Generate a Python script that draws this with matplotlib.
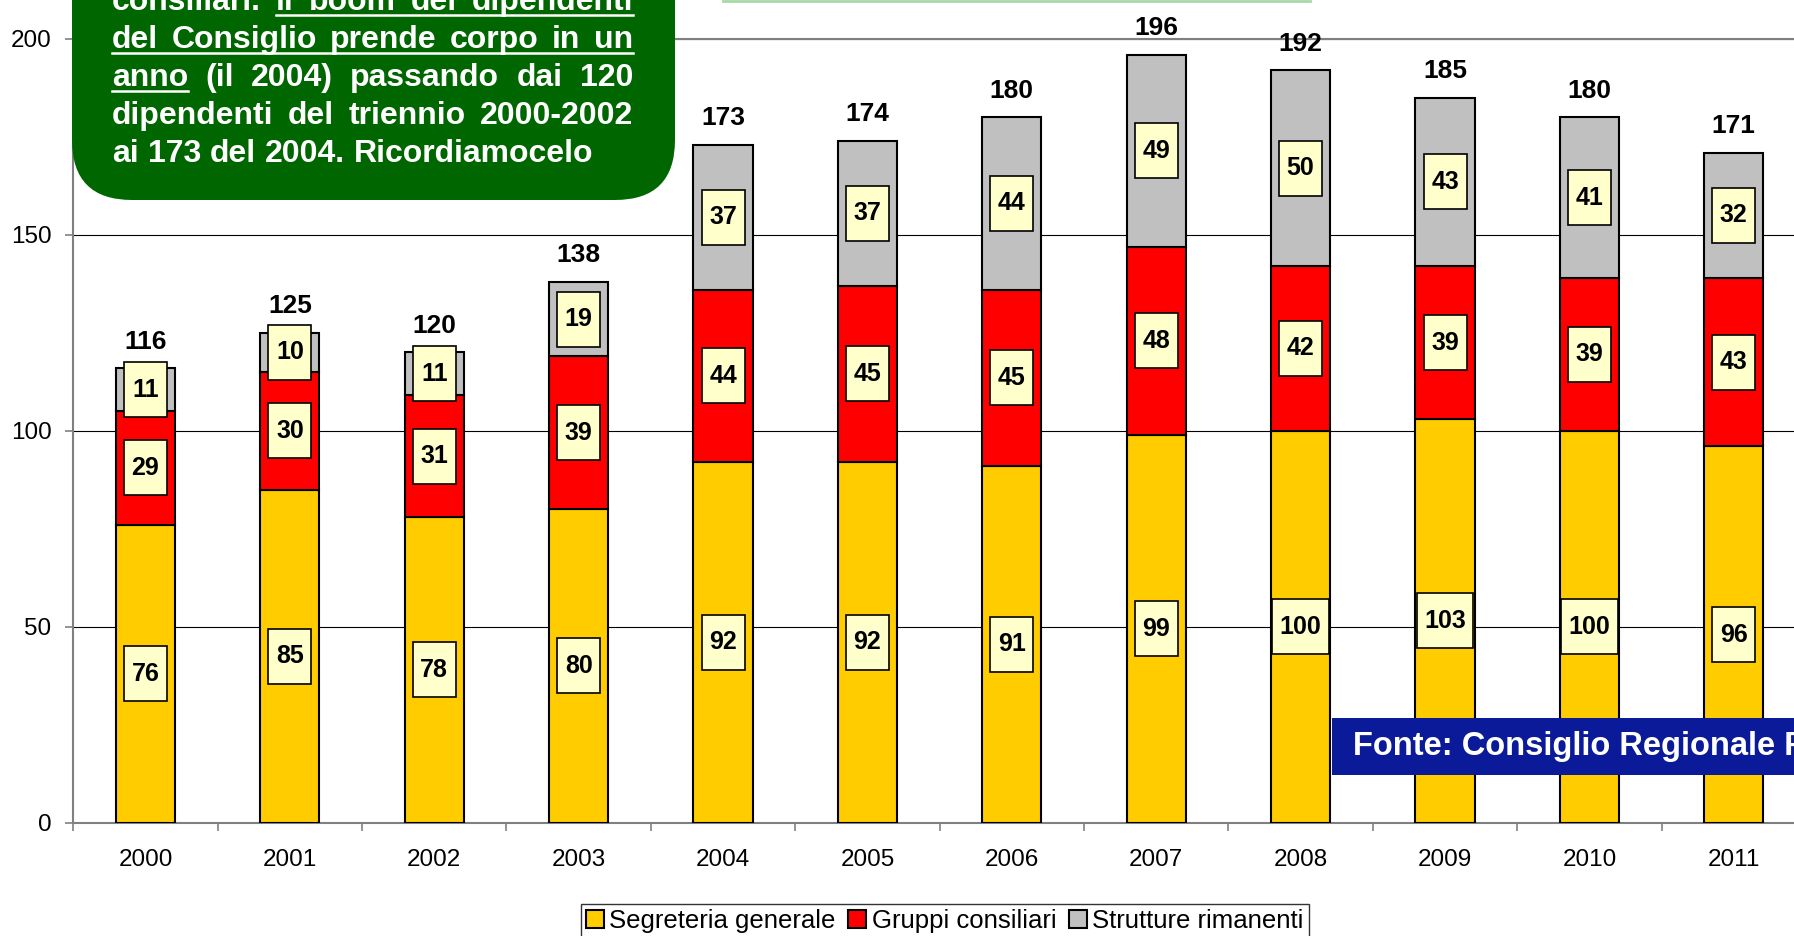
import numpy as np
import matplotlib
matplotlib.use('Agg')
import matplotlib.pyplot as plt
from matplotlib.patches import FancyBboxPatch, Rectangle
from matplotlib.lines import Line2D
from matplotlib.transforms import IdentityTransform

plt.rcParams['font.family'] = ['Liberation Sans', 'DejaVu Sans']

# data
years = ['2000', '2001', '2002', '2003', '2004', '2005',
         '2006', '2007', '2008', '2009', '2010', '2011']
segreteria = [76, 85, 78, 80, 92, 92, 91, 99, 100, 103, 100, 96]
gruppi = [29, 30, 31, 39, 44, 45, 45, 48, 42, 39, 39, 43]
strutture = [11, 10, 11, 19, 37, 37, 44, 49, 50, 43, 41, 32]
series_names = ['Segreteria generale', 'Gruppi consiliari', 'Strutture rimanenti']
series_colors = ['#FFCC00', '#FF0000', '#C0C0C0']

# text of the green note, (word, underlined)
note_lines = [
    [('consiliari.', False), ('il', True), ('boom', True), ('dei', True), ('dipendenti', True)],
    [(w, True) for w in 'del Consiglio prende corpo in un'.split()],
    [('anno', True), ('(il', False), ('2004)', False), ('passando', False), ('dai', False), ('120', False)],
    [(w, False) for w in 'dipendenti del triennio 2000-2002'.split()],
    [(w, False) for w in 'ai 173 del 2004. Ricordiamocelo'.split()],
]
source_text = 'Fonte: Consiglio Regionale FVG'

W, H = 1794, 936
fig = plt.figure(figsize=(W / 100, H / 100), dpi=100)
ax = fig.add_axes([73.3 / W, 113.4 / H, (1806 - 73.3) / W, (897.1 - 113.4) / H])

x = np.arange(len(years))
bw = 0.41
bottom = np.zeros(len(years))
px_x = 144.4  # pixels per category
px_y = 3.918  # pixels per unit
for vals, col, name in zip([segreteria, gruppi, strutture], series_colors, series_names):
    vals = np.array(vals, dtype=float)
    ax.bar(x, vals, bw, bottom=bottom, color=col, edgecolor='black',
           linewidth=1.5, label=name, zorder=3)
    for xi, b, v in zip(x, bottom, vals):
        s = str(int(v))
        w = (len(s) * 13.5 + 16) / px_x
        h = 55 / px_y
        ax.add_patch(Rectangle((xi - w / 2, b + v / 2 - h / 2), w, h, facecolor='#FFFFCC',
                               edgecolor='black', lw=1.2, zorder=4, clip_on=False))
        ax.text(xi, b + v / 2, s, ha='center', va='center', fontsize=18,
                fontweight='bold', zorder=5)
    bottom += vals

for xi, t in zip(x, bottom):
    ax.annotate(str(int(t)), (xi, t), xytext=(0, 19), textcoords='offset points',
                ha='center', va='center', fontsize=19, fontweight='bold',
                annotation_clip=False)

ax.set_xlim(-0.5, 11.5)
ax.set_ylim(0, 200)
ax.set_yticks([0, 50, 100, 150, 200])
ax.yaxis.grid(True, color='black', lw=0.8)
ax.set_axisbelow(True)
ax.set_xticks(x)
ax.set_xticklabels(years)
ax.set_xticks(np.arange(-0.5, 12, 1), minor=True)
ax.tick_params(axis='x', which='major', length=0, pad=19, labelsize=17.5)
ax.tick_params(axis='x', which='minor', length=6, width=1.2, color='#808080')
ax.tick_params(axis='y', length=6, width=1.2, color='#808080', pad=9.7, labelsize=17.5)
for side in ['left', 'bottom', 'top']:
    ax.spines[side].set_color('#808080')
    ax.spines[side].set_linewidth(1.5)
ax.spines['right'].set_visible(False)

leg = fig.legend(loc='upper left', bbox_to_anchor=(581 / W, 1 - 904 / H), ncol=3,
                 fancybox=False, edgecolor='black', fontsize=18.5, handlelength=0.7,
                 handleheight=0.7, handletextpad=0.2, columnspacing=0.5,
                 borderpad=0.2, borderaxespad=0)
leg.get_frame().set_linewidth(1)

# green note box
ident = IdentityTransform()
fig.add_artist(FancyBboxPatch((72, H - 200), 675 - 72, 300,
                              boxstyle='round,pad=0,rounding_size=60',
                              transform=ident, facecolor='#006600', edgecolor='none'))
fig.add_artist(Line2D([723, 1310], [H - 1, H - 1], transform=ident, color='#A8D8A8', lw=2))

renderer = fig.canvas.get_renderer()
left, right = 112, 633
baselines = [10, 48, 86, 124, 162]
for i, (words, base) in enumerate(zip(note_lines, baselines)):
    y = H - base
    texts = [fig.text(0, y, w, transform=ident, color='white', fontsize=23,
                      fontweight='bold', va='baseline', ha='left') for w, u in words]
    widths = [t.get_window_extent(renderer=renderer).width for t in texts]
    if i < len(note_lines) - 1:
        gap = (right - left - sum(widths)) / (len(words) - 1)
    else:
        gap = 8.9
    pos = left
    spans = []
    for t, wd, (w, u) in zip(texts, widths, words):
        t.set_x(pos)
        spans.append((pos, pos + wd, u))
        pos += wd + gap
    # underline runs
    run = None
    for a, b, u in spans + [(0, 0, False)]:
        if u:
            run = (run[0] if run else a, b)
        elif run:
            fig.add_artist(Line2D([run[0], run[1]], [y - 5, y - 5], transform=ident,
                                  color='white', lw=1.8))
            run = None

# source box
fig.add_artist(Rectangle((1332, H - 775), 600, 57, transform=ident,
                         facecolor='#0A1A99', edgecolor='none'))
fig.text(1353, H - 747, source_text, transform=ident, color='white', fontsize=23.5,
         fontweight='bold', va='center', ha='left')

fig.savefig('out.png', dpi=100)
